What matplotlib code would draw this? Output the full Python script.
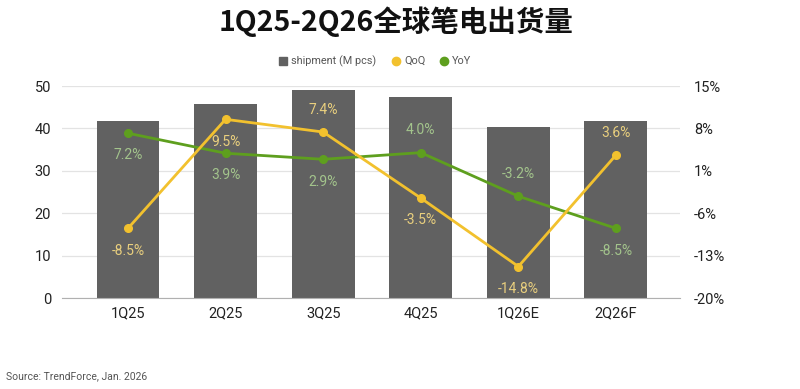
import numpy as np
import matplotlib.pyplot as plt

plt.rcParams['font.family'] = ['Roboto', 'Noto Sans CJK SC', 'DejaVu Sans']

quarters = ['1Q25', '2Q25', '3Q25', '4Q25', '1Q26E', '2Q26F']
shipment = [41.7, 45.8, 49.1, 47.3, 40.3, 41.7]
qoq = [-8.5, 9.5, 7.4, -3.5, -14.8, 3.6]
yoy = [7.2, 3.9, 2.9, 4.0, -3.2, -8.5]
# label above (+1) or below (-1) the point
qoq_pos = [-1, -1, 1, -1, -1, 1]
yoy_pos = [-1, -1, -1, 1, 1, -1]

bar_c = '#616161'
qoq_c = '#f2c12e'
yoy_c = '#5e9f1e'
qoq_lab = '#e9cf7e'
yoy_lab = '#a3c48c'

fig = plt.figure(figsize=(8, 3.89), dpi=100)
ax = fig.add_axes([62 / 800, 1 - 298 / 389, 618 / 800, 212 / 389])
x = np.arange(len(quarters))

ax.bar(x, shipment, width=0.645, color=bar_c, zorder=2)
ax.set_ylim(0, 50)
ax.set_xlim(-0.676, 5.656)
ax.set_yticks([0, 10, 20, 30, 40, 50])
ax.grid(axis='y', color='#e3e3e3', lw=0.9, zorder=0)
for s in ['top', 'right', 'left']:
    ax.spines[s].set_visible(False)
ax.spines['bottom'].set_color('#b0b0b0')
ax.tick_params(axis='both', length=0, labelsize=10.5, colors='#222222')
ax.tick_params(axis='y', pad=8)
ax.tick_params(axis='x', pad=6)
ax.set_xticks(x)
ax.set_xticklabels(quarters)

ax2 = ax.twinx()
ax2.set_ylim(-20, 15)
ax2.set_yticks([-20, -13, -6, 1, 8, 15])
ax2.set_yticklabels([f'{v}%' for v in [-20, -13, -6, 1, 8, 15]])
for s in ax2.spines.values():
    s.set_visible(False)
ax2.tick_params(axis='y', length=0, labelsize=10.5, colors='#222222', pad=10)

ax2.plot(x, yoy, color=yoy_c, lw=2, marker='o', ms=5.5, zorder=3)
ax2.plot(x, qoq, color=qoq_c, lw=2, marker='o', ms=5.5, zorder=4)

for xi, v, p in zip(x, qoq, qoq_pos):
    ax2.annotate(f'{v}%', (xi, v), xytext=(0, 16 * p), textcoords='offset points',
                 ha='center', va='center', fontsize=10, color=qoq_lab, zorder=5)
for xi, v, p in zip(x, yoy, yoy_pos):
    ax2.annotate(f'{v}%', (xi, v), xytext=(0, 16 * p), textcoords='offset points',
                 ha='center', va='center', fontsize=10, color=yoy_lab, zorder=5)

fig.text(0.495, 1 - 22 / 389, '1Q25-2Q26全球笔电出货量', ha='center', va='center',
         fontsize=20.5, fontweight='bold', family=['Noto Sans CJK SC', 'DejaVu Sans'],
         color='#111111')

# legend
ly = 1 - 61 / 389
items = [(283, 's', bar_c, 'shipment (M pcs)'), (396, 'o', qoq_c, 'QoQ'), (444, 'o', yoy_c, 'YoY')]
for px, mk, c, txt in items:
    fig.lines.append(plt.Line2D([px / 800], [ly], marker=mk, color=c, ms=6,
                                transform=fig.transFigure, ls=''))
    fig.text((px + 8) / 800, ly, txt, ha='left', va='center', fontsize=7.8, color='#555555')

fig.text(6 / 800, 1 - 376 / 389, 'Source: TrendForce, Jan. 2026', ha='left', va='center',
         fontsize=7.5, color='#555555')

fig.savefig('out.png', dpi=100, facecolor='white')
